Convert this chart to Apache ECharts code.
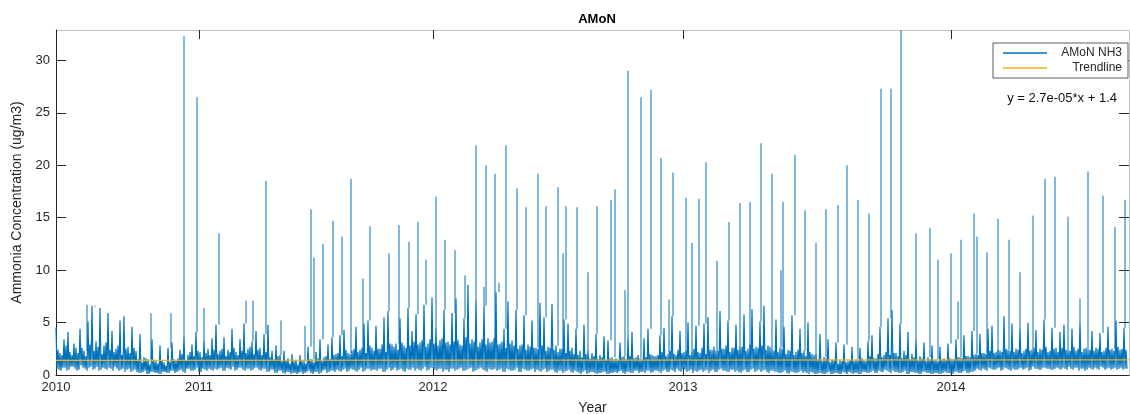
<!DOCTYPE html>
<html>
<head>
<meta charset="utf-8">
<title>AMoN</title>
<script src="https://cdn.jsdelivr.net/npm/echarts@6/dist/echarts.min.js"></script>
<style>
  html, body { margin: 0; padding: 0; background: #fff; }
  #chart { width: 1130px; height: 414px; }
</style>
</head>
<body>
<div id="chart"></div>
<script>
// x is the record position along the axis (0 .. 1073), y is NH3 in ug/m3
const xMax = 1073;
const yMax = 32.9;
const step = 4;

// year tick labels and where they sit on the record axis
const yearTicks = [0, 143, 377, 627, 895];
const yearLabels = ['2010', '2011', '2012', '2013', '2014'];
const concTicks = [0, 5, 10, 15, 20, 25, 30];

// the dense band is read in blocks of 4 records: high, low, core, floor

// first record of each block: the local high
const bandHighs = [
  4.5, 2.1, 3.4, 4.1, 1.9, 2.6, 4.4, 2.3, 5.1, 6.6,
  3.2, 6.4, 2.8, 5.9, 4.2, 2.5, 5.2, 5.6, 2.7, 4.6,
  2.3, 3.9, 1.7, 1.5, 3.4, 1.3, 2.8, 1.2, 2.6, 3.1,
  1.4, 2.4, 3.8, 1.9, 2.9, 4.1, 2.2, 3.3, 2.5, 3.5,
  4.8, 2.3, 3.6, 2.4, 4.4, 2.2, 3.4, 4.9, 2.5, 3.2,
  4.2, 2.6, 3.9, 4.8, 2.3, 2.8, 1.9, 2.3, 1.6, 2.0,
  1.4, 1.9, 1.3, 2.7, 1.5, 2.2, 3.4, 1.7, 2.9, 3.6,
  2.0, 3.8, 4.3, 2.1, 2.3, 4.6, 2.4, 4.9, 5.2, 2.6,
  4.7, 2.5, 5.5, 6.1, 2.9, 3.0, 5.4, 2.8, 6.4, 4.2,
  5.8, 3.1, 6.7, 3.0, 7.4, 4.5, 3.3, 6.2, 3.2, 5.9,
  7.3, 2.9, 5.4, 8.6, 3.4, 7.2, 3.1, 6.6, 3.5, 3.2,
  7.9, 3.0, 4.4, 7.0, 3.3, 6.2, 2.8, 5.7, 2.9, 5.2,
  2.6, 6.9, 5.5, 2.7, 6.8, 2.8, 2.5, 5.3, 4.9, 2.6,
  4.4, 2.3, 4.8, 2.4, 2.1, 3.9, 1.9, 3.7, 3.3, 1.7,
  1.6, 3.1, 1.8, 3.6, 4.1, 1.7, 1.6, 3.5, 4.4, 1.9,
  1.8, 3.8, 4.5, 2.0, 5.6, 1.9, 4.2, 2.2, 5.0, 2.3,
  4.7, 2.1, 4.9, 5.5, 2.4, 2.3, 6.1, 2.5, 5.2, 2.6,
  4.8, 2.8, 5.8, 2.5, 6.3, 2.7, 5.1, 6.6, 2.8, 2.5,
  5.3, 2.6, 4.6, 2.4, 5.7, 2.2, 4.4, 2.3, 5.0, 2.0,
  2.1, 3.9, 1.7, 3.4, 1.5, 3.1, 1.4, 2.9, 1.3, 2.7,
  1.5, 2.6, 1.4, 3.2, 3.8, 1.6, 4.6, 1.9, 5.4, 6.2,
  2.1, 4.9, 2.3, 4.1, 2.0, 3.5, 1.8, 3.1, 1.7, 2.8,
  1.5, 2.7, 1.6, 3.0, 1.5, 3.4, 1.7, 3.8, 1.8, 4.2,
  2.0, 3.9, 2.1, 4.4, 4.7, 2.2, 2.3, 5.6, 2.4, 4.9,
  2.5, 4.6, 2.3, 5.0, 2.4, 4.3, 2.5, 5.3, 2.2, 4.5,
  2.6, 4.1, 4.8, 2.4, 4.4, 2.3, 5.1, 2.5, 2.4, 4.2,
  2.6, 4.0, 2.3, 4.6, 2.5, 5.2, 2.4, 4.5
];

// second record of each block: the dip after the high
const bandLows = [
  0.6, 0.4, 0.7, 0.5, 0.8, 0.4, 0.9, 0.6, 0.7, 0.5,
  0.8, 0.5, 0.6, 0.7, 0.4, 0.6, 0.5, 0.3, 0.6, 0.4,
  0.3, 0.2, 0.4, 0.1, 0.3, 0.2, 0.1, 0.3, 0.2, 0.4,
  0.3, 0.5, 0.2, 0.6, 0.4, 0.7, 0.3, 0.5, 0.6, 0.4,
  0.5, 0.7, 0.4, 0.6, 0.8, 0.5, 0.7, 0.4, 0.6, 0.5,
  0.7, 0.4, 0.6, 0.3, 0.5, 0.2, 0.4, 0.1, 0.3, 0.2,
  0.1, 0.3, 0.2, 0.4, 0.1, 0.3, 0.2, 0.5, 0.3, 0.4,
  0.5, 0.3, 0.6, 0.4, 0.5, 0.3, 0.7, 0.4, 0.6, 0.5,
  0.4, 0.6, 0.3, 0.7, 0.5, 0.4, 0.6, 0.3, 0.5, 0.7,
  0.6, 0.4, 0.8, 0.5, 0.7, 0.4, 0.6, 0.5, 0.3, 0.6,
  0.5, 0.7, 0.4, 0.6, 0.3, 0.5, 0.7, 0.4, 0.6, 0.5,
  0.4, 0.6, 0.3, 0.5, 0.4, 0.7, 0.3, 0.5, 0.4, 0.6,
  0.5, 0.3, 0.6, 0.4, 0.5, 0.2, 0.4, 0.3, 0.5, 0.2,
  0.3, 0.1, 0.4, 0.2, 0.3, 0.1, 0.2, 0.3, 0.1, 0.2,
  0.2, 0.4, 0.1, 0.3, 0.2, 0.4, 0.3, 0.2, 0.4, 0.3,
  0.4, 0.2, 0.5, 0.3, 0.4, 0.6, 0.3, 0.5, 0.4, 0.2,
  0.3, 0.5, 0.4, 0.2, 0.5, 0.3, 0.6, 0.4, 0.3, 0.5,
  0.4, 0.2, 0.5, 0.3, 0.6, 0.4, 0.3, 0.5, 0.2, 0.4,
  0.3, 0.2, 0.4, 0.1, 0.3, 0.2, 0.4, 0.3, 0.1, 0.2,
  0.1, 0.2, 0.1, 0.3, 0.1, 0.2, 0.1, 0.2, 0.3, 0.1,
  0.2, 0.1, 0.3, 0.2, 0.4, 0.2, 0.3, 0.5, 0.3, 0.4,
  0.3, 0.2, 0.4, 0.1, 0.3, 0.2, 0.1, 0.3, 0.2, 0.1,
  0.2, 0.1, 0.3, 0.2, 0.1, 0.3, 0.2, 0.4, 0.2, 0.3,
  0.6, 0.4, 0.5, 0.7, 0.5, 0.6, 0.4, 0.7, 0.5, 0.6,
  0.5, 0.7, 0.6, 0.4, 0.8, 0.6, 0.5, 0.7, 0.6, 0.5,
  0.7, 0.5, 0.6, 0.8, 0.5, 0.7, 0.6, 0.4, 0.7, 0.5,
  0.6, 0.8, 0.5, 0.7, 0.6, 0.5, 0.7, 0.6
];

// third record of each block: the typical level of the band
const bandCore = [
  2.4, 1.9, 2.8, 2.2, 3.0, 2.1, 2.6, 1.8, 2.9, 2.3,
  2.7, 2.0, 3.1, 2.4, 2.2, 2.8, 1.9, 2.5, 2.1, 2.6,
  1.5, 1.2, 1.6, 1.0, 1.3, 1.1, 1.4, 0.9, 1.2, 1.5,
  1.6, 2.0, 1.4, 2.2, 1.8, 2.3, 1.7, 2.1, 1.9, 2.4,
  2.0, 2.5, 1.8, 2.2, 2.6, 1.9, 2.3, 2.1, 2.7, 2.0,
  2.4, 1.9, 2.2, 1.7, 1.5, 1.8, 1.3, 1.4, 1.1, 1.3,
  1.0, 1.4, 1.1, 1.5, 1.2, 1.6, 1.3, 1.8, 1.5, 1.9,
  2.1, 1.8, 2.4, 2.0, 2.5, 2.2, 2.6, 2.1, 2.8, 2.3,
  2.5, 2.9, 2.2, 3.0, 2.7, 2.4, 3.1, 2.6, 2.8, 3.2,
  2.9, 3.3, 2.7, 3.4, 3.0, 2.8, 3.5, 3.1, 2.9, 3.2,
  3.3, 2.8, 3.6, 3.0, 3.2, 2.7, 3.4, 2.9, 3.1, 3.5,
  2.9, 3.2, 2.6, 3.0, 2.8, 2.5, 2.9, 2.4, 2.7, 2.6,
  2.5, 2.8, 2.3, 2.6, 2.4, 2.2, 2.5, 2.1, 2.3, 2.0,
  1.9, 1.7, 2.0, 1.6, 1.8, 1.5, 1.7, 1.4, 1.6, 1.5,
  1.4, 1.7, 1.5, 1.8, 1.6, 1.9, 1.5, 1.7, 2.0, 1.8,
  1.9, 2.2, 1.8, 2.3, 2.0, 2.4, 2.1, 2.3, 1.9, 2.5,
  2.2, 2.6, 2.0, 2.4, 2.7, 2.3, 2.5, 2.8, 2.2, 2.6,
  2.4, 2.7, 2.3, 2.9, 2.5, 2.6, 2.8, 2.4, 2.7, 2.3,
  2.2, 2.5, 2.0, 2.3, 1.9, 2.4, 2.1, 1.8, 2.2, 1.9,
  1.5, 1.3, 1.6, 1.2, 1.4, 1.1, 1.3, 1.2, 1.4, 1.3,
  1.4, 1.6, 1.3, 1.8, 1.6, 2.0, 1.7, 2.2, 1.9, 2.1,
  1.8, 1.6, 1.9, 1.5, 1.7, 1.4, 1.6, 1.3, 1.5, 1.4,
  1.3, 1.5, 1.4, 1.6, 1.5, 1.7, 1.6, 1.8, 1.7, 1.9,
  1.9, 2.1, 2.0, 2.3, 2.1, 2.4, 2.2, 2.5, 2.3, 2.2,
  2.4, 2.1, 2.5, 2.3, 2.6, 2.2, 2.4, 2.7, 2.3, 2.5,
  2.2, 2.6, 2.4, 2.3, 2.7, 2.5, 2.2, 2.6, 2.4, 2.3,
  2.5, 2.2, 2.6, 2.4, 2.3, 2.7, 2.5, 2.4
];

// fourth record of each block: the floor before the next high
const bandFloor = [
  0.5, 0.7, 0.4, 0.8, 0.6, 0.5, 0.7, 0.4, 0.8, 0.6,
  0.4, 0.7, 0.5, 0.6, 0.8, 0.4, 0.6, 0.5, 0.3, 0.5,
  0.2, 0.3, 0.1, 0.3, 0.2, 0.1, 0.3, 0.2, 0.4, 0.2,
  0.4, 0.3, 0.6, 0.4, 0.5, 0.3, 0.6, 0.4, 0.5, 0.6,
  0.6, 0.4, 0.7, 0.5, 0.4, 0.7, 0.5, 0.6, 0.4, 0.7,
  0.5, 0.6, 0.3, 0.5, 0.2, 0.4, 0.2, 0.3, 0.1, 0.2,
  0.2, 0.1, 0.3, 0.2, 0.3, 0.1, 0.4, 0.2, 0.4, 0.3,
  0.4, 0.5, 0.3, 0.6, 0.4, 0.5, 0.3, 0.6, 0.4, 0.5,
  0.6, 0.3, 0.5, 0.4, 0.7, 0.5, 0.4, 0.6, 0.5, 0.4,
  0.5, 0.6, 0.4, 0.7, 0.5, 0.6, 0.3, 0.5, 0.6, 0.4,
  0.6, 0.4, 0.5, 0.7, 0.4, 0.6, 0.5, 0.3, 0.5, 0.6,
  0.5, 0.3, 0.6, 0.4, 0.5, 0.3, 0.6, 0.4, 0.5, 0.3,
  0.4, 0.5, 0.3, 0.5, 0.3, 0.4, 0.2, 0.4, 0.3, 0.4,
  0.2, 0.3, 0.1, 0.3, 0.2, 0.2, 0.3, 0.1, 0.2, 0.3,
  0.3, 0.2, 0.3, 0.2, 0.4, 0.2, 0.3, 0.4, 0.2, 0.4,
  0.3, 0.4, 0.3, 0.5, 0.3, 0.4, 0.5, 0.3, 0.5, 0.4,
  0.4, 0.3, 0.5, 0.4, 0.3, 0.5, 0.4, 0.3, 0.5, 0.3,
  0.3, 0.4, 0.3, 0.5, 0.3, 0.5, 0.4, 0.3, 0.4, 0.3,
  0.2, 0.3, 0.2, 0.3, 0.2, 0.3, 0.2, 0.2, 0.3, 0.1,
  0.2, 0.1, 0.2, 0.1, 0.2, 0.1, 0.3, 0.1, 0.2, 0.2,
  0.1, 0.3, 0.2, 0.3, 0.2, 0.4, 0.3, 0.4, 0.2, 0.3,
  0.2, 0.3, 0.1, 0.3, 0.2, 0.1, 0.3, 0.2, 0.1, 0.2,
  0.1, 0.2, 0.2, 0.1, 0.3, 0.2, 0.3, 0.2, 0.3, 0.4,
  0.5, 0.6, 0.4, 0.6, 0.5, 0.7, 0.5, 0.6, 0.4, 0.5,
  0.6, 0.5, 0.7, 0.5, 0.6, 0.5, 0.7, 0.6, 0.5, 0.6,
  0.6, 0.7, 0.5, 0.6, 0.7, 0.4, 0.6, 0.5, 0.6, 0.7,
  0.5, 0.7, 0.6, 0.5, 0.7, 0.6, 0.5, 0.6
];

// isolated spikes: record position and value
const spikeX = [
  31, 39, 95, 115, 128, 141, 148, 163, 190, 197, 210, 225, 249, 255, 258, 267,
  277, 286, 295, 307, 314, 333, 343, 353, 362, 370, 380, 389, 399, 409,
  420, 428, 430, 439, 443, 450, 461, 470, 482, 490, 502, 507, 510, 521, 532,
  541, 555, 559, 569, 572, 585, 595, 605, 613, 617, 630, 636, 643, 650, 661,
  673, 684, 694, 705, 716, 725, 727, 739, 749, 760, 770, 782, 791, 802,
  813, 825, 835, 845, 860, 874, 882, 895, 902, 905, 918, 921, 931, 942, 953,
  964, 977, 989, 999, 1012, 1024, 1032, 1047, 1059, 1069
];
const spikeY = [
  6.7, 6.5, 5.9, 5.9, 32.3, 26.5, 6.4, 13.5, 7.1, 7.1, 18.5, 5.2, 4.7, 15.8, 11.2, 12.5,
  14.7, 13.2, 18.7, 9.2, 14.2, 11.6, 14.3, 12.7, 14.6, 11.0, 17.0, 12.9, 11.9, 9.5,
  21.9, 8.4, 20.0, 19.2, 8.8, 21.9, 17.8, 16.0, 19.2, 16.1, 17.9, 11.6, 16.1, 16.0, 9.8,
  16.1, 16.7, 17.7, 8.1, 29.0, 26.5, 27.2, 20.7, 7.2, 19.3, 16.9, 12.6, 16.8, 20.3, 10.9,
  14.6, 16.4, 16.5, 22.1, 19.2, 10.0, 16.5, 21.0, 15.7, 12.6, 15.8, 16.2, 20.0, 16.7,
  15.4, 27.3, 27.3, 32.9, 13.5, 14.0, 11.0, 11.6, 7.0, 12.9, 15.4, 13.2, 11.7, 14.9, 12.9,
  9.8, 15.2, 18.7, 18.9, 15.1, 7.3, 19.4, 17.1, 14.1, 16.7
];

// fitted trend, read at both ends of the record
const trendX = [0, xMax];
const trendY = [1.40, 1.44];

// dense band, one record per axis unit
const band = [];
bandHighs.forEach((v, i) => {
  band.push([i * step, v]);
  band.push([i * step + 1, bandLows[i]]);
  band.push([i * step + 2, bandCore[i]]);
  band.push([i * step + 3, bandFloor[i]]);
});

// spikes rise from the band top at their record, broken apart by gaps
const spikes = [];
spikeX.forEach((x, i) => {
  const base = bandHighs[Math.min(bandHighs.length - 1, Math.floor(x / step))];
  spikes.push([x, base], [x, spikeY[i]], [x, '-']);
});

const trend = trendX.map((x, i) => [x, trendY[i]]);

const FONT = '"Liberation Sans", Arial, Helvetica, sans-serif';
const AXIS_COLOR = '#262626';
const BOX_COLOR = '#c4c4c4';
const NH3_COLOR = '#0072BD';

const chart = echarts.init(document.getElementById('chart'));

const option = {
  animation: false,
  backgroundColor: '#fff',
  title: {
    text: 'AMoN',
    left: 592,
    top: 8,
    textAlign: 'center',
    textStyle: { fontFamily: FONT, fontSize: 13, fontWeight: 'bold', color: '#000' }
  },
  grid: { left: 56, right: 1, top: 30, bottom: 39, outerBoundsMode: 'none', containLabel: false },
  legend: {
    orient: 'vertical',
    right: 2,
    top: 43,
    itemGap: 3,
    itemWidth: 44,
    itemHeight: 1.5,
    padding: [4, 6, 4, 10],
    borderColor: '#333',
    borderWidth: 0.8,
    borderRadius: 0,
    backgroundColor: '#fff',
    formatter: name => '{r|' + name + '}',
    textStyle: {
      fontFamily: FONT, fontSize: 12, color: AXIS_COLOR,
      rich: { r: { width: 70, align: 'right', fontFamily: FONT, fontSize: 12, color: AXIS_COLOR } }
    },
    data: [
      { name: 'AMoN NH3', icon: 'rect' },
      { name: 'Trendline', icon: 'rect' }
    ]
  },
  graphic: [{
    type: 'text',
    right: 13,
    top: 92,
    style: {
      text: 'y = 2.7e-05*x + 1.4',
      font: '13px ' + FONT,
      fill: '#111'
    }
  }],
  xAxis: [{
    type: 'value',
    min: 0,
    max: xMax,
    name: 'Year',
    nameLocation: 'middle',
    nameGap: 26,
    nameTextStyle: { fontFamily: FONT, fontSize: 14, color: AXIS_COLOR },
    axisLine: { show: true, onZero: false, lineStyle: { color: AXIS_COLOR, width: 1 } },
    axisTick: { show: true, inside: true, length: 8, customValues: yearTicks, lineStyle: { color: AXIS_COLOR } },
    axisLabel: {
      customValues: yearTicks,
      formatter: v => yearLabels[yearTicks.indexOf(v)],
      margin: 6,
      fontFamily: FONT, fontSize: 13, color: AXIS_COLOR
    },
    splitLine: { show: false }
  }, {
    type: 'value',
    position: 'top',
    min: 0,
    max: xMax,
    axisLine: { show: true, onZero: false, lineStyle: { color: BOX_COLOR, width: 1 } },
    axisTick: { show: true, inside: true, length: 9, customValues: yearTicks, lineStyle: { color: AXIS_COLOR } },
    axisLabel: { show: false },
    splitLine: { show: false }
  }],
  yAxis: [{
    type: 'value',
    min: 0,
    max: yMax,
    name: 'Ammonia Concentration (ug/m3)',
    nameLocation: 'middle',
    nameGap: 28,
    nameTextStyle: { fontFamily: FONT, fontSize: 14, color: AXIS_COLOR },
    axisLine: { show: true, onZero: false, lineStyle: { color: AXIS_COLOR, width: 1 } },
    axisTick: { show: true, inside: true, length: 10, customValues: concTicks, lineStyle: { color: AXIS_COLOR } },
    axisLabel: { customValues: concTicks, margin: 6, fontFamily: FONT, fontSize: 13, color: AXIS_COLOR },
    splitLine: { show: false }
  }, {
    type: 'value',
    position: 'right',
    min: 0,
    max: yMax,
    axisLine: { show: true, onZero: false, lineStyle: { color: BOX_COLOR, width: 1 } },
    axisTick: { show: true, inside: true, length: 10, customValues: concTicks, lineStyle: { color: AXIS_COLOR } },
    axisLabel: { show: false },
    splitLine: { show: false }
  }],
  series: [{
    name: 'AMoN NH3',
    type: 'line',
    data: band,
    showSymbol: false,
    symbol: 'none',
    sampling: null,
    color: NH3_COLOR,
    lineStyle: { color: NH3_COLOR, width: 1.2 },
    z: 2
  }, {
    name: 'AMoN NH3',
    type: 'line',
    data: spikes,
    showSymbol: false,
    symbol: 'none',
    connectNulls: false,
    color: NH3_COLOR,
    lineStyle: { color: NH3_COLOR, width: 1 },
    z: 2
  }, {
    name: 'Trendline',
    type: 'line',
    data: trend,
    showSymbol: false,
    symbol: 'none',
    color: '#EDB120',
    lineStyle: { color: '#EDB120', width: 1.2 },
    z: 3
  }]
};

chart.setOption(option);
</script>
</body>
</html>
